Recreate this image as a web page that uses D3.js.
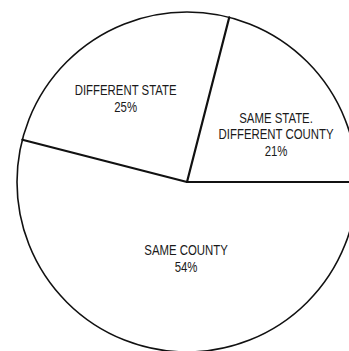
<!DOCTYPE html>
<html>
<head>
<meta charset="utf-8">
<script src="https://cdn.jsdelivr.net/npm/d3@7"></script>
<style>
  html, body { margin: 0; padding: 0; background: #fff; }
  svg { display: block; }
  text { font-family: "Liberation Sans", Arial, sans-serif; fill: #1a1a1a; }
</style>
</head>
<body>
<svg id="chart" width="349" height="351"></svg>
<script>
// Where movers came from: share of moves by origin
const categories = ["SAME COUNTY", "DIFFERENT STATE", "SAME STATE, DIFFERENT COUNTY"];
const labelLines = [["SAME COUNTY"], ["DIFFERENT STATE"], ["SAME STATE.", "DIFFERENT COUNTY"]];
const shares = [54, 25, 21];

const width = 349, height = 351;
const cx = 187, cy = 182, radius = 170;

const svg = d3.select("#chart");
const g = svg.append("g").attr("transform", `translate(${cx},${cy})`);

// Slices run clockwise from 3 o'clock
const pie = d3.pie()
  .sort(null)
  .value(d => d)
  .startAngle(Math.PI / 2)
  .endAngle(Math.PI / 2 + 2 * Math.PI);
const arcs = pie(shares);

const arc = d3.arc().innerRadius(0).outerRadius(radius);

g.selectAll("path.slice")
  .data(arcs)
  .join("path")
  .attr("class", "slice")
  .attr("d", arc)
  .attr("fill", "#fff")
  .attr("stroke", "none");

// outer rim
g.append("circle")
  .attr("r", radius)
  .attr("fill", "none")
  .attr("stroke", "#111")
  .attr("stroke-width", 1.6);

// slice boundaries
g.selectAll("line.edge")
  .data(arcs)
  .join("line")
  .attr("class", "edge")
  .attr("x1", 0).attr("y1", 0)
  .attr("x2", d => d3.pointRadial(d.startAngle, radius)[0])
  .attr("y2", d => d3.pointRadial(d.startAngle, radius)[1])
  .attr("stroke", "#111")
  .attr("stroke-width", 2.2)
  .attr("stroke-linecap", "round");

// labels: placed around the slice centroid with a small nudge per slice,
// set in a condensed face (regular sans squeezed horizontally)
const labelArc = d3.arc().innerRadius(95).outerRadius(95);
const nudges = [[11, -18], [-13, -2], [14, 10]];
const lineH = 16.5, capH = 10.7, fontSize = 15, squeeze = 0.76;

arcs.forEach((d, i) => {
  const [x0, y0] = labelArc.centroid(d);
  const bx = x0 + nudges[i][0];
  const by = y0 + nudges[i][1];
  const lines = labelLines[i].concat([shares[i] + "%"]);
  const first = by - (lines.length - 1) * lineH / 2 + capH / 2;
  const t = g.append("text")
    .attr("transform", `translate(${bx},0) scale(${squeeze},1)`)
    .attr("text-anchor", "middle")
    .attr("font-size", fontSize);
  lines.forEach((s, k) => {
    t.append("tspan")
      .attr("x", 0)
      .attr("y", first + k * lineH)
      .text(s);
  });
});
</script>
</body>
</html>
